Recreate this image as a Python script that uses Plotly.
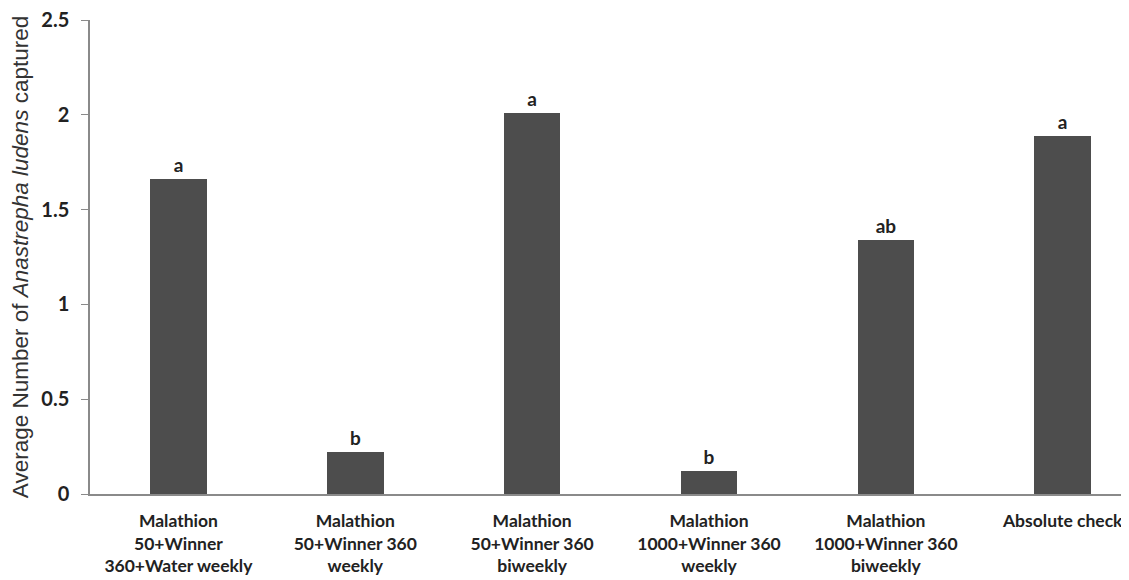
import plotly.graph_objects as go

categories = [
    "Malathion<br>50+Winner<br>360+Water weekly",
    "Malathion<br>50+Winner 360<br>weekly",
    "Malathion<br>50+Winner 360<br>biweekly",
    "Malathion<br>1000+Winner 360<br>weekly",
    "Malathion<br>1000+Winner 360<br>biweekly",
    "Absolute check",
]
values = [1.66, 0.22, 2.01, 0.12, 1.34, 1.89]
letters = ["a", "b", "a", "b", "ab", "a"]

x_idx = list(range(len(categories)))
FONT = "Lato"

fig = go.Figure()
fig.add_trace(go.Bar(
    x=x_idx, y=values, width=0.32,
    marker=dict(color="#4d4d4d", line=dict(width=0)),
    text=letters, textposition="outside", cliponaxis=False,
    textfont=dict(family=FONT, size=19, color="#222222", weight="bold"),
))

fig.update_layout(
    width=1129, height=580,
    margin=dict(l=82, r=0, t=12, b=94),
    paper_bgcolor="white", plot_bgcolor="white",
    showlegend=False,
    bargap=0,
    xaxis=dict(
        range=[-0.5, 5.42],
        tickmode="array", tickvals=x_idx, ticktext=categories,
        showline=True, linecolor="#8a8a8a", linewidth=1.5,
        ticks="", showgrid=False, zeroline=False,
        ticklabelstandoff=10,
        tickfont=dict(family=FONT, size=17.5, color="#222222", weight="bold"),
    ),
    yaxis=dict(
        range=[0, 2.5], tickmode="array",
        tickvals=[0, 0.5, 1, 1.5, 2, 2.5],
        ticktext=["0", "0.5", "1", "1.5", "2", "2.5"],
        showline=True, linecolor="#8a8a8a", linewidth=1.5,
        ticks="outside", ticklen=7, tickcolor="#8a8a8a",
        ticklabelstandoff=8, ticklabeloverflow="allow",
        showgrid=False, zeroline=False,
        tickfont=dict(family=FONT, size=20, color="#222222", weight="bold"),
        title=dict(text="Average Number of <i>Anastrepha ludens</i> captured",
                   font=dict(family="Liberation Sans", size=22.5, color="#333333"),
                   standoff=14),
    ),
)

fig.write_html("out.html")
